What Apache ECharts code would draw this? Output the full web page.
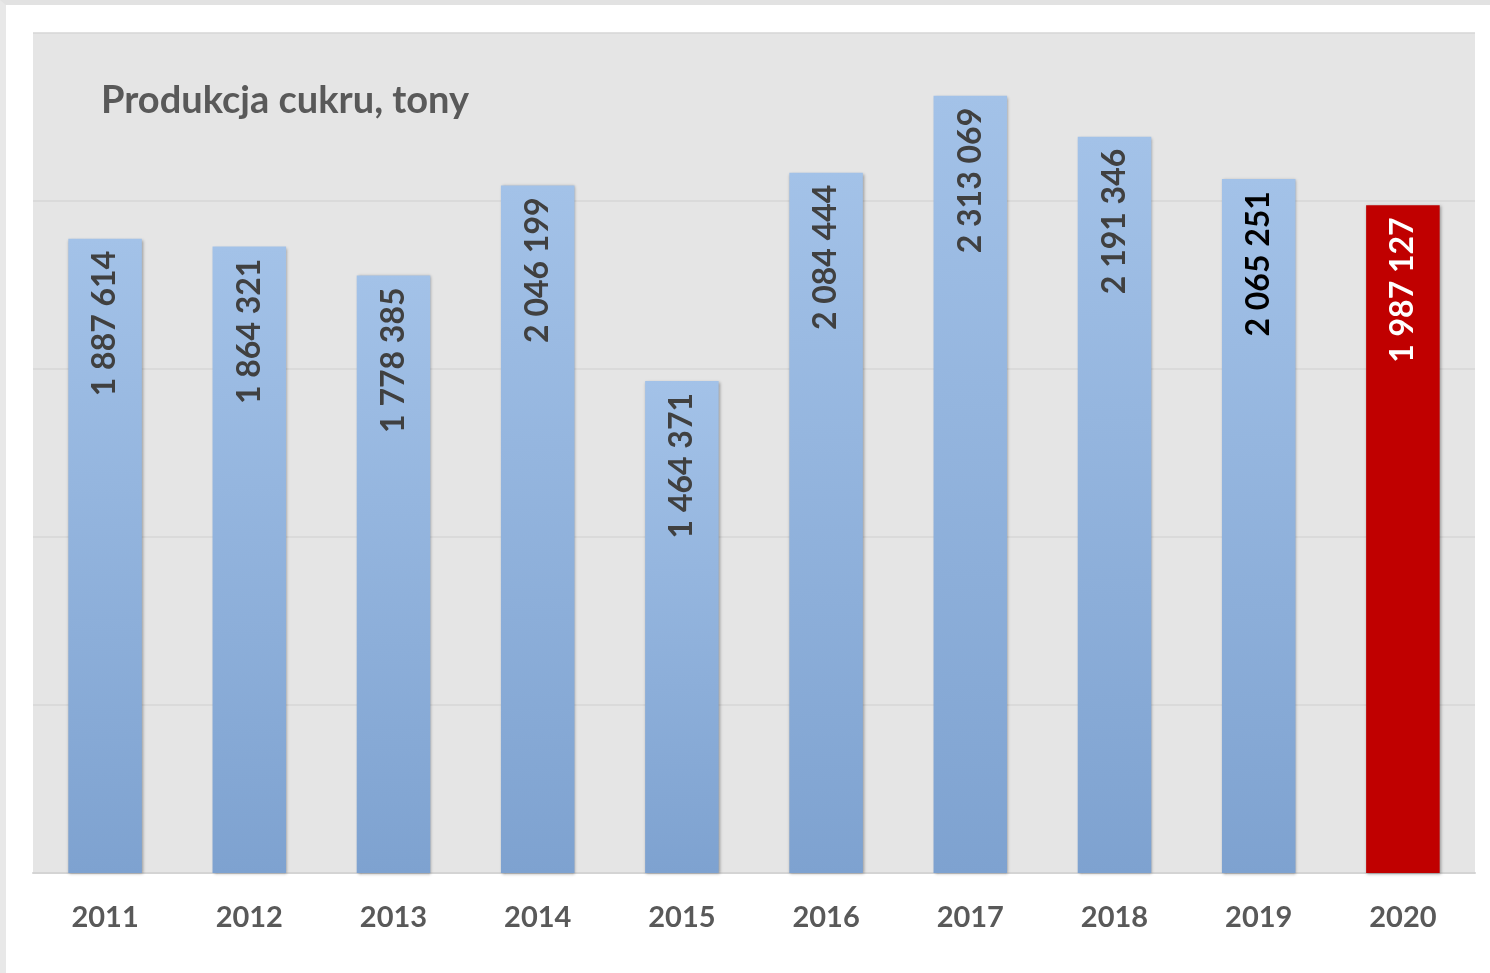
<!DOCTYPE html>
<html>
<head>
<meta charset="utf-8">
<script src="https://cdn.jsdelivr.net/npm/echarts@6/dist/echarts.min.js"></script>
<style>
  html, body { margin: 0; padding: 0; background: #fff; }
  #wrap { width: 1484px; height: 968px; border-top: 5px solid #e2e2e2; border-left: 6px solid #e8e8e8; }
  #main { width: 1484px; height: 968px; }
</style>
</head>
<body>
<div id="wrap"><div id="main"></div></div>
<script>
// dane
var years = ['2011', '2012', '2013', '2014', '2015', '2016', '2017', '2018', '2019', '2020'];
var production = [1887614, 1864321, 1778385, 2046199, 1464371, 2084444, 2313069, 2191346, 2065251, 1987127];
var title = 'Produkcja cukru, tony';

function fmt(v) {
  return String(v).replace(/\B(?=(\d{3})+(?!\d))/g, ' ');
}

var blueGrad = new echarts.graphic.LinearGradient(0, 0, 0, 1, [
  { offset: 0, color: '#a3c2e8' },
  { offset: 1, color: '#7ea2d0' }
]);

var data = production.map(function (v, i) {
  var item = { value: v };
  if (i === 8) {
    item.label = { color: '#000' };
  }
  if (i === 9) {
    item.itemStyle = { color: '#c00000' };
    item.label = { color: '#fff' };
  }
  return item;
});

var myChart = echarts.init(document.getElementById('main'));
myChart.setOption({
  animation: false,
  title: {
    text: title,
    left: 90,
    top: 72,
    textStyle: { fontFamily: 'Lato', fontSize: 38, fontWeight: 'bold', color: '#595959' }
  },
  grid: {
    left: 27, right: 15, top: 28, bottom: 100,
    show: true, backgroundColor: '#e5e5e5', borderWidth: 0
  },
  xAxis: {
    type: 'category',
    data: years,
    axisTick: { show: false },
    axisLine: { lineStyle: { color: '#d4d4d4', width: 2 } },
    axisLabel: {
      margin: 30, fontFamily: 'Lato', fontSize: 29, fontWeight: 'bold', color: '#595959'
    }
  },
  yAxis: {
    type: 'value',
    min: 0, max: 2500000, interval: 500000,
    axisLabel: { show: false },
    axisLine: { show: false },
    axisTick: { show: false },
    splitLine: { lineStyle: { color: '#d6d6d6', width: 1.5 } }
  },
  series: [{
    type: 'bar',
    data: data,
    barWidth: '51%',
    itemStyle: {
      color: blueGrad,
      shadowColor: 'rgba(0,0,0,0.35)',
      shadowBlur: 3,
      shadowOffsetX: 1,
      shadowOffsetY: 1
    },
    label: {
      show: true,
      position: 'insideTop',
      rotate: 90,
      align: 'right',
      verticalAlign: 'middle',
      distance: 12,
      fontFamily: 'Lato',
      fontSize: 32,
      fontWeight: 'bold',
      color: '#404040',
      formatter: function (p) { return fmt(p.value); }
    }
  }]
});
</script>
</body>
</html>
